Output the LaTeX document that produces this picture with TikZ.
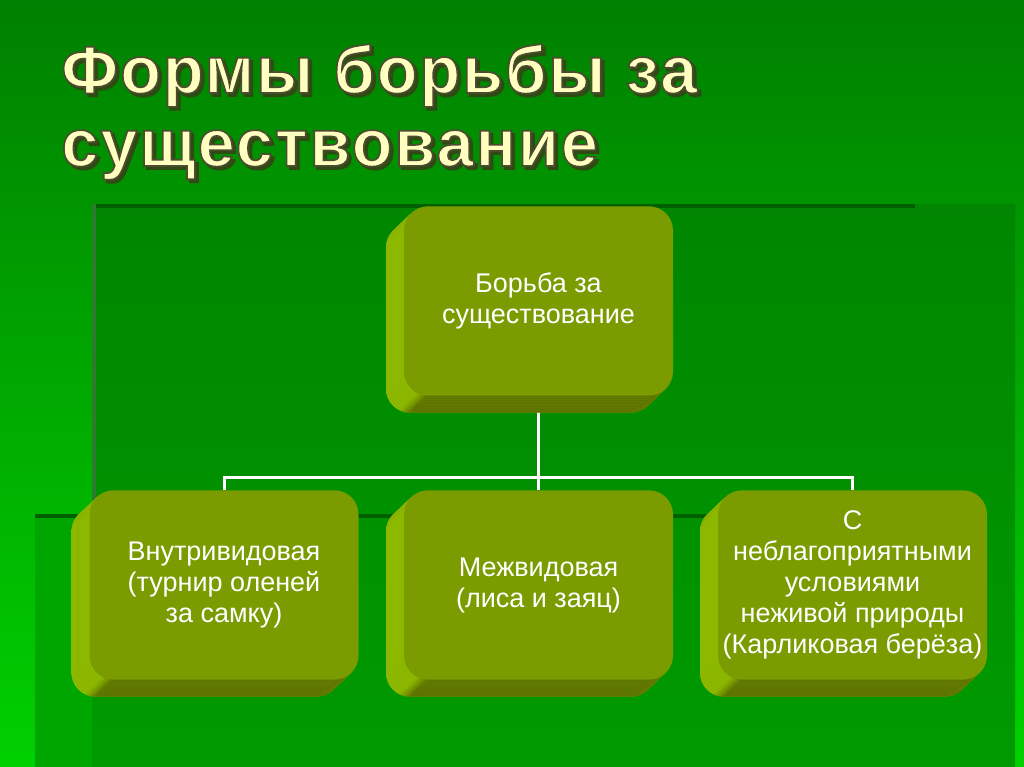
\documentclass[tikz,border=0pt]{standalone}
\usepackage{fontspec}
\setmainfont{Liberation Sans}
\newfontfamily\headfont{Liberation Sans Bold}[FakeBold=2.5,LetterSpace=3]
\usetikzlibrary{shadows,backgrounds}

\definecolor{bgtop}{HTML}{008000}
\definecolor{bgbottom}{HTML}{00D000}
\definecolor{paneltop}{HTML}{008600}
\definecolor{panelbottom}{HTML}{009A00}
\definecolor{panelside}{HTML}{00A600}
\definecolor{edgedark}{HTML}{006000}
\definecolor{edgegrey}{HTML}{2E7A2E}
\definecolor{boxface}{HTML}{7A9C00}
\definecolor{sidelight}{HTML}{8DB800}
\definecolor{sidedark}{HTML}{5E7400}
\definecolor{titlefill}{HTML}{FFFFC0}
\definecolor{titleshade}{HTML}{2F4A12}

\pgfdeclarehorizontalshading{cubeside}{100bp}{color(0bp)=(sidelight); color(27.5bp)=(sidelight); color(29.5bp)=(sidedark); color(100bp)=(sidedark)}

\newcommand{\titlefont}{\fontsize{50pt}{56pt}\headfont}
\newcommand{\boxfont}{\fontsize{20.25pt}{23.25pt}\selectfont}
\newcommand{\rim}{\special{pdf:literal direct 0.30 0.30 0.19 RG}}

\begin{document}
\begin{tikzpicture}[x=0.75pt,y=-0.75pt,
    depth/.style={copy shadow={shadow xshift=-#1*0.75pt, shadow yshift=-#1*0.71pt, shading=cubeside, draw=none}},
    cube/.style={rounded corners=18pt, fill=boxface, text=white, align=center,
      font=\boxfont, inner sep=2pt, minimum width=201.75pt, minimum height=142pt,
      depth=18, depth=16, depth=14, depth=12, depth=10, depth=8, depth=6, depth=4, depth=2},
    conn/.style={draw=white, line width=2.25pt},
    headline/.style={anchor=base west, inner sep=0pt, font=\titlefont, text=titlefill},
    headshade/.style={anchor=base west, inner sep=0pt, font=\titlefont, text=titleshade}]
\useasboundingbox (0,0) rectangle (1024,767);

% backdrop panels
\begin{scope}[on background layer]
  \shade[top color=bgtop, bottom color=bgbottom] (0,0) rectangle (1024,767);
  \shade[top color=paneltop, bottom color=panelbottom] (92,204) rectangle (1015,767);
  \fill[panelside] (35,516) rectangle (92,767);
  \fill[edgedark] (92,204) rectangle (915,208);
  \fill[edgegrey] (92,204) rectangle (96,516);
  \fill[edgedark] (35,514) rectangle (720,518);
\end{scope}

% heading
\node[headshade] (shade1) at (64,96) {Формы борьбы за};
\node[headline] (title1) at (61,93) {\rim Формы борьбы за};
\node[headshade] (shade2) at (64,169) {существование};
\node[headline] (title2) at (61,166) {\rim существование};

% boxes
\node[cube] (root) at (538.5,301) {Борьба за\\существование};
\node[cube] (intra) at (224,585) {Внутривидовая\\(турнир оленей\\за самку)};
\node[cube] (inter) at (538.5,585) {Межвидовая\\(лиса и заяц)};
\node[cube] (abio) at (852.5,585) {С\\неблагоприятными\\условиями\\неживой природы\\(Карликовая берёза)};

% tree lines
\begin{scope}[on background layer]
  \coordinate (bus) at (0,477);
  \draw[conn] (root.south) -- (inter.north);
  \draw[conn] (intra.north) -- (intra.north |- bus) -- (abio.north |- bus) -- (abio.north);
\end{scope}
\end{tikzpicture}
\end{document}
